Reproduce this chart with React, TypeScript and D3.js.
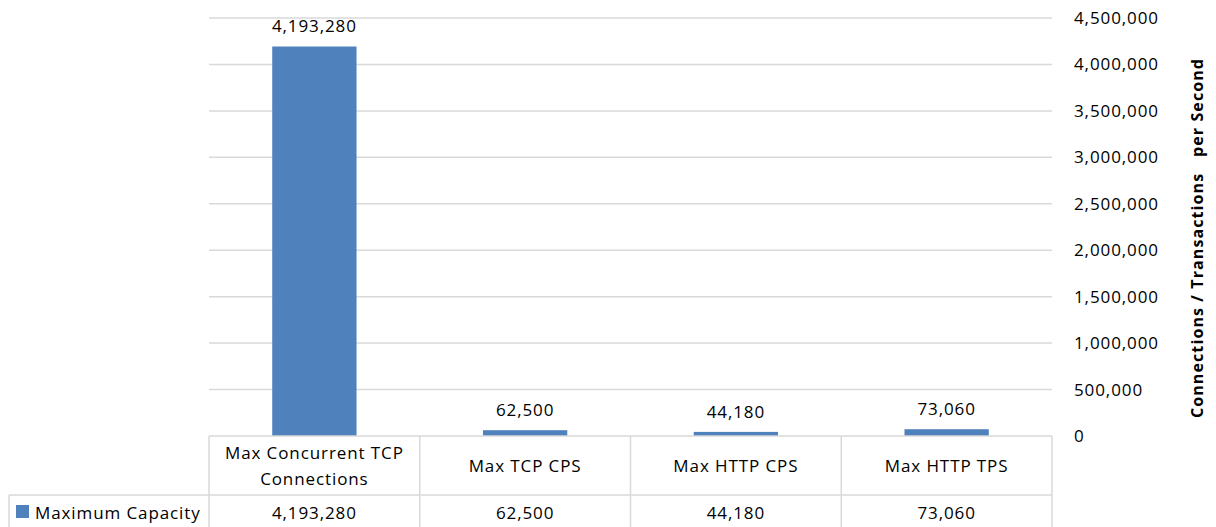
import React from "react";
import * as d3 from "d3";

const categories: string[][] = [
  ["Max Concurrent TCP", "Connections"],
  ["Max TCP CPS"],
  ["Max HTTP CPS"],
  ["Max HTTP TPS"],
];
const values: number[] = [4193280, 62500, 44180, 73060];
const seriesName = "Maximum Capacity";
const yTicks: number[] = [0, 500000, 1000000, 1500000, 2000000, 2500000, 3000000, 3500000, 4000000, 4500000];
const axisTitle = "Connections / Transactions\u00A0\u00A0\u00A0per Second";

const W = 1216;
const H = 527;
const plotLeft = 209;
const plotRight = 1052;
const plotTop = 18;
const plotBottom = 436;
const row1Bottom = 495;
const row2Bottom = 530;
const tableLeft = 9;
const font = "'Open Sans', sans-serif";
const barColor = "#4f81bd";
const lineColor = "#d9d9d9";
const fs = 17;
const ls = 0.9;
const fmt = d3.format(",");

export default function App() {
  const y = d3.scaleLinear().domain([0, 4500000]).range([plotBottom, plotTop]);
  const x = d3
    .scaleBand<number>()
    .domain(values.map((_, i) => i))
    .range([plotLeft, plotRight])
    .paddingInner(0.6)
    .paddingOuter(0.3);
  const step = x.step();
  const colEdges = values.map((_, i) => plotLeft + i * step).concat([plotRight]);

  return (
    <svg
      width={W}
      height={H}
      style={{ position: "absolute", left: 0, top: 0, background: "#fff" }}
      fontFamily={font}
    >
      {/* gridlines */}
      {yTicks
        .filter((t) => t > 0)
        .map((t) => (
          <line key={t} x1={plotLeft} x2={plotRight} y1={y(t)} y2={y(t)} stroke={lineColor} strokeWidth={1.5} />
        ))}
      {/* right axis labels */}
      {yTicks.map((t) => (
        <text key={"l" + t} x={1074} y={y(t)} dy="0.35em" fontSize={fs} letterSpacing={ls} fill="#000">
          {fmt(t)}
        </text>
      ))}
      {/* axis title */}
      <text
        transform={`translate(1203,238) rotate(-90)`}
        textAnchor="middle"
        fontSize={16}
        letterSpacing={1.1}
        fontWeight="bold"
        fill="#000"
      >
        {axisTitle}
      </text>
      {/* bars */}
      {values.map((v, i) => (
        <rect key={"b" + i} x={x(i)} y={y(v)} width={x.bandwidth()} height={plotBottom - y(v)} fill={barColor} />
      ))}
      {/* data labels */}
      {values.map((v, i) => (
        <text
          key={"d" + i}
          x={(x(i) as number) + x.bandwidth() / 2}
          y={y(v) - 14}
          textAnchor="middle"
          fontSize={fs}
          letterSpacing={ls}
          fill="#000"
        >
          {fmt(v)}
        </text>
      ))}
      {/* data table */}
      <g stroke={lineColor} strokeWidth={1.5} fill="none">
        <line x1={plotLeft} x2={plotRight} y1={plotBottom} y2={plotBottom} />
        <line x1={tableLeft} x2={plotRight} y1={row1Bottom} y2={row1Bottom} />
        <line x1={tableLeft} x2={tableLeft} y1={row1Bottom} y2={row2Bottom} />
        {colEdges.map((cx, i) => (
          <line key={"c" + i} x1={cx} x2={cx} y1={plotBottom} y2={row2Bottom} />
        ))}
      </g>
      {categories.map((lines, i) => {
        const cx = plotLeft + (i + 0.5) * step;
        const mid = (plotBottom + row1Bottom) / 2 + 1;
        const lh = 26;
        const start = mid - ((lines.length - 1) * lh) / 2;
        return (
          <text key={"cat" + i} x={cx} textAnchor="middle" fontSize={fs} letterSpacing={ls} fill="#000">
            {lines.map((ln, j) => (
              <tspan key={j} x={cx} y={start + j * lh} dy="0.35em">
                {ln}
              </tspan>
            ))}
          </text>
        );
      })}
      {values.map((v, i) => (
        <text
          key={"t" + i}
          x={plotLeft + (i + 0.5) * step}
          y={513}
          dy="0.35em"
          textAnchor="middle"
          fontSize={fs}
          letterSpacing={ls}
          fill="#000"
        >
          {fmt(v)}
        </text>
      ))}
      <rect x={16} y={505} width={13} height={13} fill={barColor} />
      <text x={35} y={513} dy="0.35em" fontSize={fs} letterSpacing={ls} fill="#000">
        {seriesName}
      </text>
    </svg>
  );
}
